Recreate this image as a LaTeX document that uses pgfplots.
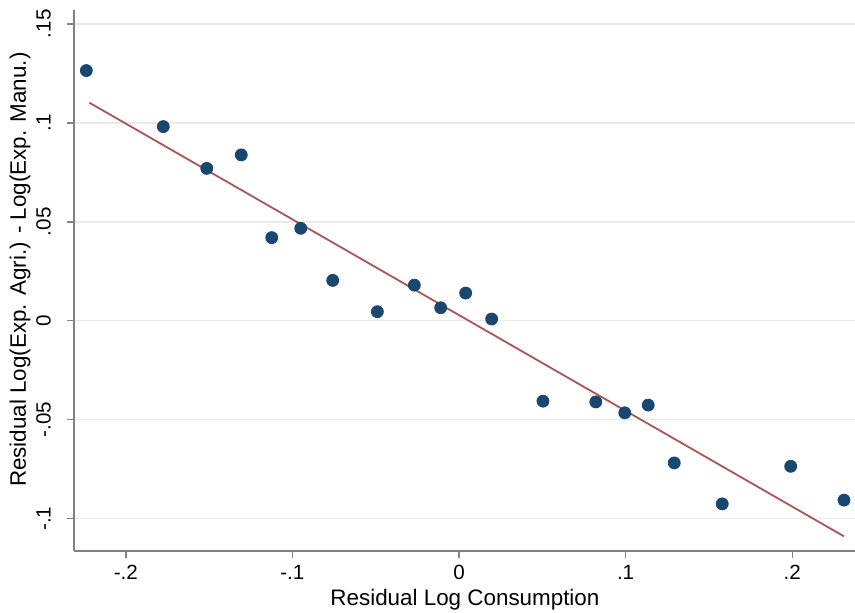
\documentclass[border=0pt]{standalone}
\usepackage{pgfplots}
\pgfplotsset{compat=1.18}
\usepackage{fontspec}
\setmainfont{Liberation Sans}
\definecolor{stnavy}{RGB}{26,71,111}
\definecolor{stmaroon}{RGB}{172,84,86}
\definecolor{axgray}{RGB}{130,130,130}
\definecolor{gridgray}{RGB}{234,234,234}
\begin{document}
\begin{tikzpicture}
\begin{axis}[
  scale only axis,
  width=390.5pt, height=270.5pt,
  xmin=-0.2311, xmax=0.2377,
  ymin=-0.1163, ymax=0.157,
  axis x line*=bottom, axis y line*=left,
  axis line style={axgray, line width=0.8pt, -},
  xtick={-0.2,-0.1,0,0.1,0.2},
  xticklabels={-.2,-.1,0,.1,.2},
  ytick={-0.1,-0.05,0,0.05,0.1,0.15},
  yticklabels={-.1,-.05,0,.05,.1,.15},
  tick align=outside,
  major tick length=3.6pt,
  tick style={axgray, line width=0.7pt},
  ymajorgrids,
  grid style={gridgray, line width=0.7pt},
  ticklabel style={font=\fontsize{10.3}{12}\selectfont},
  yticklabel style={rotate=90, anchor=south},
  yticklabel shift={4.5pt},
  xlabel={Residual Log Consumption},
  ylabel={Residual Log(Exp. Agri.) - Log(Exp. Manu.)},
  label style={font=\fontsize{11.2}{13}\selectfont},
  xlabel style={at={(axis description cs:0.5006,-0.0906)}, anchor=center},
  ylabel style={at={(axis description cs:-0.0691,0.52)}, anchor=center},
  clip=false,
]
\addplot[only marks, mark=*, mark size=3pt, color=stnavy] coordinates {
(-0.2237,0.1264)
(-0.1775,0.0981)
(-0.1514,0.0770)
(-0.1307,0.0838)
(-0.1124,0.0420)
(-0.0950,0.0467)
(-0.0758,0.0204)
(-0.0490,0.0046)
(-0.0268,0.0180)
(-0.0110,0.0066)
(0.0040,0.0140)
(0.0196,0.0009)
(0.0504,-0.0406)
(0.0821,-0.0410)
(0.0995,-0.0465)
(0.1136,-0.0426)
(0.1292,-0.0718)
(0.1580,-0.0925)
(0.1991,-0.0735)
(0.2311,-0.0906)
};
\addplot[color=stmaroon, line width=0.9pt] coordinates {
(-0.2219,0.1102)
(0.2311,-0.1089)
};
\end{axis}
\pgfresetboundingbox
\path[use as bounding box] ([shift={(-37pt,-30.5pt)}]current axis.south west) rectangle ([shift={(0pt,5pt)}]current axis.north east);
\end{tikzpicture}
\end{document}
